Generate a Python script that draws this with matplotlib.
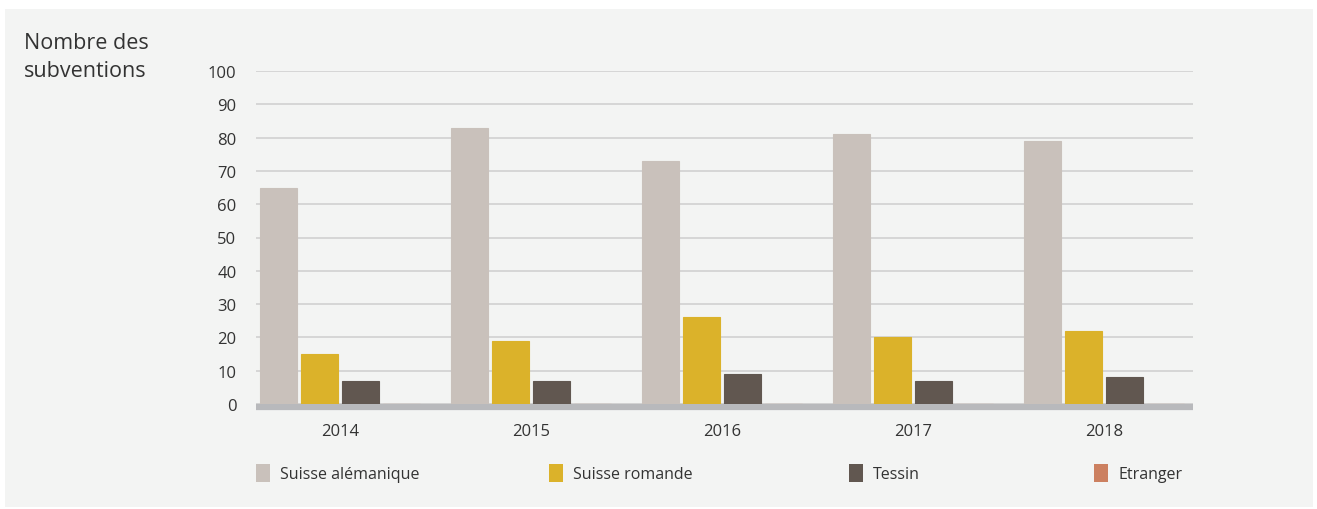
import matplotlib
matplotlib.use("Agg")
import matplotlib.pyplot as plt
from matplotlib.patches import Rectangle
import numpy as np

plt.rcParams['font.family'] = ['Open Sans', 'DejaVu Sans']

# data
years = ['2014', '2015', '2016', '2017', '2018']
series = ['Suisse alémanique', 'Suisse romande', 'Tessin', 'Etranger']
alemanique = [65, 83, 73, 81, 79]
romande = [15, 19, 26, 20, 22]
tessin = [7, 7, 9, 7, 8]
etranger = [0, 0, 0, 0, 0]
colors = ['#c9c1bb', '#dbb22a', '#615750', '#cc8060']
yticks = [0, 10, 20, 30, 40, 50, 60, 70, 80, 90, 100]

W, H = 1317, 510
fig = plt.figure(figsize=(W / 100, H / 100), dpi=100)
fig.patch.set_facecolor('white')

# light grey panel behind everything
fig.patches.append(Rectangle((5 / W, 2 / H), 1308 / W, 498 / H,
                             transform=fig.transFigure, facecolor='#f3f4f3',
                             edgecolor='none', zorder=-5))

ax = fig.add_axes([256 / W, 105 / H, 937 / W, 333 / H])
ax.set_facecolor('none')
ax.set_zorder(2)

x = np.arange(len(years))
bw = 0.194
step = 0.215
values = [alemanique, romande, tessin, etranger]
for i, (vals, c) in enumerate(zip(values, colors)):
    ax.bar(x + (i - 1.5) * step, vals, width=bw, color=c, edgecolor=c,
           linewidth=0.8, zorder=5)

ax.set_xlim(-0.44, 4.466)
ax.set_ylim(0, 100)
ax.set_yticks(yticks)
ax.set_xticks(x)
ax.set_xticklabels(years)
ax.yaxis.grid(True, color='#d3d3d3', linewidth=1.3, zorder=1)
ax.set_axisbelow(True)
ax.tick_params(axis='both', length=0, labelsize=12, colors='#333333')
ax.tick_params(axis='y', pad=14)
ax.tick_params(axis='x', pad=14)
for s in ax.spines.values():
    s.set_visible(False)

# thick baseline just under zero
ax.plot([0, 1], [-0.01, -0.01], transform=ax.transAxes, color='#b8b9bc',
        linewidth=4.5, solid_capstyle='butt', clip_on=False, zorder=4)

fig.text(24 / W, 1 - 33 / H, 'Nombre des\nsubventions', fontsize=15.5,
         color='#333333', va='top', ha='left', linespacing=1.45)

# legend, laid out like the original
leg_x = [256, 549, 849, 1094]
for lx, name, c in zip(leg_x, series, colors):
    fig.patches.append(Rectangle((lx / W, (H - 483) / H), 14 / W, 18 / H,
                                 transform=fig.transFigure, facecolor=c,
                                 edgecolor='none', zorder=2))
    fig.text((lx + 24) / W, (H - 475) / H, name, fontsize=11.5,
             color='#333333', va='center', ha='left')

fig.savefig('out.png', dpi=100, facecolor='white')
